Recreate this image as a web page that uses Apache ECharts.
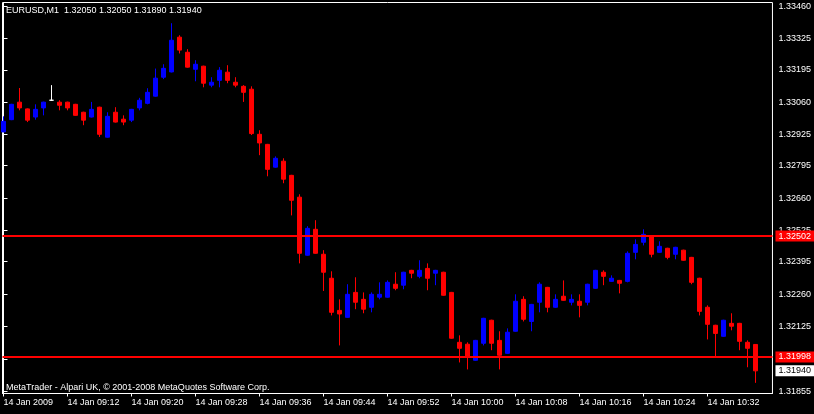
<!DOCTYPE html>
<html>
<head>
<meta charset="utf-8">
<script src="https://cdn.jsdelivr.net/npm/echarts@6/dist/echarts.min.js"></script>
<style>
html,body{margin:0;padding:0;background:#000;}
#chart{width:814px;height:414px;}
</style>
</head>
<body>
<div id="chart"></div>
<script>
var symbol = 'EURUSD,M1';
var times = ['09:04','09:05','09:06','09:07','09:08','09:09','09:10','09:11','09:12','09:13','09:14','09:15','09:16','09:17','09:18','09:19','09:20','09:21','09:22','09:23','09:24','09:25','09:26','09:27','09:28','09:29','09:30','09:31','09:32','09:33','09:34','09:35','09:36','09:37','09:38','09:39','09:40','09:41','09:42','09:43','09:44','09:45','09:46','09:47','09:48','09:49','09:50','09:51','09:52','09:53','09:54','09:55','09:56','09:57','09:58','09:59','10:00','10:01','10:02','10:03','10:04','10:05','10:06','10:07','10:08','10:09','10:10','10:11','10:12','10:13','10:14','10:15','10:16','10:17','10:18','10:19','10:20','10:21','10:22','10:23','10:24','10:25','10:26','10:27','10:28','10:29','10:30','10:31','10:32','10:33','10:34','10:35','10:36','10:37','10:38'];
var opens = [1.32936,1.32987,1.33060,1.33032,1.32998,1.33036,1.33068,1.33060,1.33060,1.33051,1.33018,1.32998,1.33039,1.32914,1.33018,1.32989,1.32985,1.33036,1.33055,1.33085,1.33164,1.33186,1.33331,1.33268,1.33197,1.33210,1.33131,1.33151,1.33185,1.33143,1.33126,1.33114,1.32926,1.32884,1.32789,1.32814,1.32755,1.32664,1.32422,1.32530,1.32426,1.32326,1.32192,1.32163,1.32267,1.32238,1.32205,1.32247,1.32247,1.32301,1.32297,1.32359,1.32334,1.32367,1.32347,1.32351,1.32267,1.32059,1.32051,1.31984,1.32055,1.32151,1.32067,1.32013,1.32105,1.32238,1.32146,1.32226,1.32288,1.32205,1.32251,1.32226,1.32230,1.32226,1.32284,1.32351,1.32313,1.32317,1.32313,1.32434,1.32476,1.32501,1.32434,1.32451,1.32426,1.32443,1.32413,1.32326,1.32205,1.32130,1.32084,1.32138,1.32138,1.32059,1.32050];
var closes = [1.32980,1.33051,1.33036,1.32985,1.33030,1.33060,1.33068,1.33047,1.33036,1.33005,1.32985,1.33030,1.32926,1.33001,1.32977,1.32977,1.33030,1.33068,1.33101,1.33160,1.33201,1.33318,1.33277,1.33206,1.33218,1.33139,1.33143,1.33193,1.33151,1.33131,1.33101,1.32929,1.32890,1.32780,1.32826,1.32739,1.32651,1.32430,1.32534,1.32430,1.32351,1.32184,1.32177,1.32259,1.32226,1.32197,1.32259,1.32259,1.32309,1.32284,1.32351,1.32347,1.32359,1.32326,1.32359,1.32255,1.32076,1.32034,1.32000,1.32067,1.32159,1.32055,1.32005,1.32101,1.32230,1.32155,1.32217,1.32301,1.32205,1.32238,1.32234,1.32238,1.32213,1.32301,1.32359,1.32334,1.32326,1.32305,1.32430,1.32467,1.32509,1.32426,1.32459,1.32413,1.32455,1.32401,1.32309,1.32188,1.32134,1.32096,1.32151,1.32126,1.32063,1.32034,1.31940];
var highs = [1.33001,1.33053,1.33119,1.33034,1.33051,1.33062,1.33131,1.33068,1.33062,1.33053,1.33020,1.33061,1.33041,1.33018,1.33039,1.33005,1.33032,1.33078,1.33118,1.33200,1.33218,1.33389,1.33339,1.33281,1.33235,1.33212,1.33164,1.33206,1.33214,1.33164,1.33131,1.33126,1.32943,1.32886,1.32834,1.32826,1.32757,1.32676,1.32543,1.32568,1.32443,1.32355,1.32238,1.32301,1.32330,1.32267,1.32267,1.32309,1.32317,1.32351,1.32353,1.32361,1.32401,1.32388,1.32361,1.32353,1.32269,1.32088,1.32059,1.32069,1.32161,1.32153,1.32105,1.32117,1.32259,1.32251,1.32219,1.32309,1.32290,1.32259,1.32317,1.32259,1.32259,1.32303,1.32361,1.32359,1.32338,1.32319,1.32438,1.32488,1.32530,1.32503,1.32480,1.32453,1.32457,1.32445,1.32415,1.32328,1.32213,1.32132,1.32153,1.32180,1.32140,1.32067,1.32050];
var lows = [1.32935,1.32985,1.33026,1.32977,1.32987,1.33005,1.33065,1.33026,1.33026,1.33003,1.32964,1.32996,1.32915,1.32912,1.32975,1.32964,1.32977,1.33026,1.33051,1.33083,1.33156,1.33184,1.33263,1.33204,1.33147,1.33122,1.33122,1.33122,1.33139,1.33122,1.33061,1.32923,1.32839,1.32751,1.32787,1.32722,1.32588,1.32388,1.32420,1.32428,1.32273,1.32171,1.32046,1.32161,1.32197,1.32180,1.32184,1.32238,1.32245,1.32276,1.32280,1.32326,1.32326,1.32276,1.32297,1.32253,1.32074,1.31975,1.31946,1.31982,1.32046,1.32026,1.31946,1.32011,1.32103,1.32146,1.32105,1.32184,1.32184,1.32203,1.32232,1.32213,1.32163,1.32213,1.32282,1.32297,1.32311,1.32263,1.32309,1.32405,1.32463,1.32413,1.32432,1.32405,1.32405,1.32399,1.32301,1.32171,1.32071,1.32000,1.32082,1.32109,1.32026,1.31955,1.31890];
var xTickTimes = ['09:04','09:12','09:20','09:28','09:36','09:44','09:52','10:00','10:08','10:16','10:24','10:32'];
var xTickLabels = ['14 Jan 2009','14 Jan 09:12','14 Jan 09:20','14 Jan 09:28','14 Jan 09:36','14 Jan 09:44','14 Jan 09:52','14 Jan 10:00','14 Jan 10:08','14 Jan 10:16','14 Jan 10:24','14 Jan 10:32'];
var yTicks = [1.31855,1.31990,1.32125,1.32260,1.32395,1.32525,1.32660,1.32795,1.32925,1.33060,1.33195,1.33325,1.33460];
var hLines = [1.32502,1.31998];
var copyright = 'MetaTrader - Alpari UK, \u00a9 2001-2008 MetaQuotes Software Corp.';

var last = times.length - 1;
var bid = closes[last];
var xTickIdx = xTickTimes.map(function(t){ return times.indexOf(t); });
var font = 'Liberation Sans, Arial, sans-serif';

var candleData = times.map(function(t, i){
  var item = {value: [i, opens[i], closes[i], lows[i], highs[i]]};
  if (opens[i] === closes[i]) {
    item.itemStyle = {color:'#ffffff', color0:'#ffffff', borderColor:'#ffffff', borderColor0:'#ffffff'};
  }
  return item;
});

var markData = hLines.map(function(v){
  return {yAxis: v, lineStyle:{color:'#ff0000', width:2, type:'solid'},
    label:{backgroundColor:'#ff0000', color:'#ffffff'}};
});
markData.push({yAxis: bid, lineStyle:{color:'rgba(0,0,0,0)', width:1},
  label:{backgroundColor:'#ffffff', color:'#000000', opacity:1}});

var chart = echarts.init(document.getElementById('chart'), null, {renderer:'canvas'});
chart.setOption({
  backgroundColor:'#000000',
  animation:false,
  graphic:[
    {type:'text', left:6, top:6, style:{text: symbol + '  ' + [opens[last],highs[last],lows[last],closes[last]].map(function(v){return v.toFixed(5);}).join(' '), fill:'#ffffff', font:'9px ' + font}},
    {type:'text', left:6, top:383, style:{text: copyright, fill:'#ffffff', font:'9px ' + font}}
  ],
  grid:{left:2.5, top:2.5, right:41.5, bottom:20.5, show:true, borderColor:'#ffffff', borderWidth:1, backgroundColor:'transparent'},
  xAxis:{
    type:'value', min:-0.125, max:96.125,
    axisLine:{show:true, lineStyle:{color:'#ffffff', width:1}},
    axisTick:{show:true, length:3, customValues:xTickIdx, lineStyle:{color:'#ffffff'}},
    axisLabel:{show:true, customValues:xTickIdx, color:'#ffffff', fontFamily:font, fontSize:9, align:'left', margin:5,
      formatter:function(v){ var k = xTickIdx.indexOf(Math.round(v)); return k >= 0 ? xTickLabels[k] : ''; }},
    splitLine:{show:false}
  },
  yAxis:{
    type:'value', position:'right', min:1.3184557, max:1.3347542, scale:true,
    axisLine:{show:true, lineStyle:{color:'#ffffff', width:1}},
    axisTick:{show:true, length:4, customValues:yTicks, lineStyle:{color:'#ffffff'}},
    axisLabel:{show:true, customValues:yTicks, color:'#ffffff', fontFamily:font, fontSize:9, margin:6,
      formatter:function(v){ return v.toFixed(5); }},
    splitLine:{show:false}
  },
  series:[{
    type:'candlestick',
    encode:{x:0, y:[1,2,3,4]},
    barWidth:4,
    clip:true,
    itemStyle:{color:'#0000ff', color0:'#ff0000', borderColor:'#0000ff', borderColor0:'#ff0000', borderWidth:1},
    data:candleData,
    markLine:{
      silent:true, symbol:['none','none'], animation:false, precision:5,
      label:{show:true, position:'end', distance:3, fontFamily:font, fontSize:9, padding:[1,3,1,3],
        formatter:function(p){ return Number(p.value).toFixed(5); }},
      data:markData
    }
  }]
});
</script>
</body>
</html>
